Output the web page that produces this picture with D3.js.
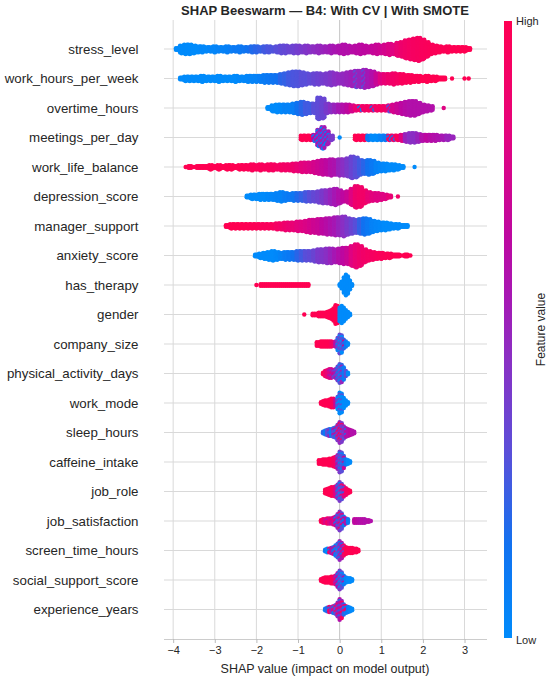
<!DOCTYPE html>
<html>
<head>
<meta charset="utf-8">
<script src="https://cdn.jsdelivr.net/npm/d3@7"></script>
<style>
  body { margin: 0; background: #fff; }
  text { font-family: "Liberation Sans", Arial, sans-serif; fill: #262626; }
</style>
</head>
<body>
<script>
// feature names, top to bottom
var features = ["stress_level", "work_hours_per_week", "overtime_hours", "meetings_per_day",
  "work_life_balance", "depression_score", "manager_support", "anxiety_score", "has_therapy",
  "gender", "company_size", "physical_activity_days", "work_mode", "sleep_hours",
  "caffeine_intake", "job_role", "job_satisfaction", "screen_time_hours",
  "social_support_score", "experience_years"];

// bin width (SHAP units) used for each feature's swarm
var binSteps = [0.1, 0.1, 0.1, 0.1, 0.1, 0.1, 0.1, 0.1, 0.05,
  0.05, 0.05, 0.05, 0.05, 0.05, 0.05, 0.05, 0.05, 0.05, 0.05, 0.05];

var xTicks = [-4, -3, -2, -1, 0, 1, 2, 3];

// colour bar stops (low -> high)
var cmapPos = [0, 0.15, 0.3, 0.45, 0.55, 0.65, 0.8, 0.9, 1];
var cmapColors = ["#008bfb", "#1272f0", "#5a4fd9", "#8a30c4", "#a618b4", "#bd08a0", "#df0482", "#f20268", "#ff0052"];

// swarm bins: [shap value, dots per column, feature value 0-1, (2nd feature value)]
var stressLevel = [[-3.9,2,0],[-3.8,5,0],[-3.7,6,0],[-3.6,6,0],[-3.5,5,0],[-3.4,4,0],[-3.3,4,0.02],
  [-3.2,3,0.02],[-3.1,3,0.03],[-3.0,4,0.03],[-2.9,3,0.05],[-2.8,3,0.05],[-2.7,4,0.06],[-2.6,3,0.08],
  [-2.5,3,0.1],[-2.4,4,0.1],[-2.3,3,0.12],[-2.2,3,0.15],[-2.1,4,0.18],[-2.0,4,0.2],[-1.9,3,0.22],
  [-1.8,4,0.25],[-1.7,4,0.27],[-1.6,3,0.28],[-1.5,4,0.3],[-1.4,5,0.32],[-1.3,5,0.33],[-1.2,4,0.35],
  [-1.1,5,0.36],[-1.0,5,0.38],[-0.9,4,0.4],[-0.8,5,0.42],[-0.7,4,0.44],[-0.6,4,0.46],[-0.5,5,0.48],
  [-0.4,4,0.5],[-0.3,4,0.52],[-0.2,5,0.54],[-0.1,4,0.56],[0.0,5,0.58],[0.1,6,0.6],[0.2,5,0.6],
  [0.3,4,0.62],[0.4,5,0.63],[0.5,6,0.64],[0.6,5,0.65],[0.7,4,0.66],[0.8,5,0.68],[0.9,6,0.7],
  [1.0,5,0.72],[1.1,6,0.75],[1.2,7,0.78],[1.3,6,0.8],[1.4,8,0.85],[1.5,9,0.88],[1.6,11,0.9],
  [1.7,12,0.92],[1.8,13,0.93],[1.9,14,0.94],[2.0,12,0.95],[2.1,9,0.96],[2.2,6,0.97],[2.3,5,0.97],
  [2.4,4,0.98],[2.5,3,0.98],[2.6,4,0.98],[2.7,3,0.99],[2.8,3,0.99],[2.9,3,1],[3.0,3,1],[3.1,2,1]];

var workHours = [[-3.8,2,0],[-3.7,3,0],[-3.6,3,0],[-3.5,3,0],[-3.4,3,0],[-3.3,4,0],[-3.2,3,0],
  [-3.1,3,0],[-3.0,3,0],[-2.9,4,0],[-2.8,3,0],[-2.7,3,0],[-2.6,3,0],[-2.5,4,0],[-2.4,3,0.02],
  [-2.3,3,0.02],[-2.2,4,0.03],[-2.1,4,0.04],[-2.0,4,0.05],[-1.9,4,0.07],[-1.8,5,0.09],[-1.7,5,0.11],
  [-1.6,5,0.13],[-1.5,5,0.15],[-1.4,6,0.2],[-1.3,7,0.22],[-1.2,8,0.25],[-1.1,9,0.27],[-1.0,9,0.28],
  [-0.9,8,0.3],[-0.8,7,0.3],[-0.7,6,0.32],[-0.6,7,0.34],[-0.5,7,0.36],[-0.4,6,0.38],[-0.3,7,0.4],
  [-0.2,8,0.42],[-0.1,7,0.45],[0.0,6,0.47],[0.1,7,0.48],[0.2,8,0.5],[0.3,9,0.52],[0.4,10,0.5,0.3],
  [0.5,10,0.5],[0.6,11,0.52,0.3],[0.7,10,0.55],[0.8,9,0.6],[0.9,7,0.7],[1.0,6,0.8],[1.1,6,0.85],
  [1.2,6,0.88],[1.3,7,0.9],[1.4,6,0.92],[1.5,6,0.95],[1.6,5,0.96],[1.7,5,0.97],[1.8,4,0.98],
  [1.9,4,0.98],[2.0,3,1],[2.1,4,1],[2.2,3,1],[2.3,3,1],[2.4,2,1],[2.5,2,1],[2.7,1,1],[3.0,1,1],[3.1,1,1]];

var overtimeHours = [[-1.7,2,0],[-1.6,4,0],[-1.5,5,0],[-1.4,5,0.02],[-1.3,5,0.05],[-1.2,5,0.05],
  [-1.1,6,0.08],[-1.0,7,0.15],[-0.9,8,0.2],[-0.8,7,0.25],[-0.7,6,0.25],[-0.6,6,0.3],[-0.5,13,0.32],
  [-0.4,12,0.35],[-0.3,6,0.4],[-0.2,5,0.45],[-0.1,5,0.5],[0.0,5,0.55],[0.1,5,0.6],[0.2,5,0.65],
  [0.3,4,0.75],[0.4,3,0.85],[0.5,3,0.9,0.1],[0.6,3,0.9],[0.7,3,0.92],[0.8,3,0.9,0.2],[0.9,3,0.92],
  [1.0,3,0.93],[1.1,3,0.9],[1.2,4,0.8,0.3],[1.3,5,0.75],[1.4,6,0.7],[1.5,7,0.65],[1.6,8,0.62],
  [1.7,9,0.6],[1.8,9,0.6],[1.9,7,0.6],[2.0,5,0.6],[2.1,4,0.6],[2.2,3,0.6],[2.5,1,0.8]];

var meetingsPerDay = [[-0.9,3,1],[-0.8,3,1],[-0.7,3,1],[-0.6,4,0.65,0.1],[-0.5,10,0.55,0.1],
  [-0.4,13,0.55,0.05],[-0.3,8,0.55,0.1],[-0.2,3,0.4],[0.0,1,0],[0.4,3,1],[0.5,3,1],[0.6,3,1],
  [0.7,3,0.1],[0.8,3,0],[0.9,3,0],[1.0,3,0.05],[1.1,3,0.1],[1.2,3,0.9,0.1],[1.3,3,0.9,0.2],
  [1.4,3,0.95],[1.5,4,0.8],[1.6,5,0.5],[1.7,6,0.45],[1.8,6,0.45],[1.9,5,0.5],[2.0,4,0.6],
  [2.1,4,0.65],[2.2,4,0.62],[2.3,4,0.6],[2.4,3,0.58],[2.5,3,0.55],[2.6,3,0.5],[2.7,2,0.5]];

var workLifeBalance = [[-3.7,1,1],[-3.6,2,1],[-3.5,1,1],[-3.4,2,1],[-3.3,2,1],[-3.2,2,1],[-3.1,3,1],
  [-3.0,2,1],[-2.9,3,1],[-2.8,2,1],[-2.7,3,1],[-2.6,3,1],[-2.5,2,1],[-2.4,3,1],[-2.3,3,0.98],
  [-2.2,3,0.98],[-2.1,4,0.97],[-2.0,3,0.97],[-1.9,4,0.96],[-1.8,3,0.95],[-1.7,4,0.95],[-1.6,4,0.94],
  [-1.5,3,0.93],[-1.4,4,0.92],[-1.3,4,0.91],[-1.2,4,0.9],[-1.1,5,0.88],[-1.0,5,0.85],[-0.9,6,0.82],
  [-0.8,6,0.8],[-0.7,6,0.78],[-0.6,7,0.75],[-0.5,8,0.72],[-0.4,9,0.68],[-0.3,9,0.65],[-0.2,10,0.6],
  [-0.1,9,0.58],[0.0,10,0.5],[0.1,10,0.45],[0.2,11,0.4],[0.3,13,0.35],[0.4,12,0.3],[0.5,9,0.25],
  [0.6,8,0.2],[0.7,9,0.15],[0.8,8,0.1],[0.9,6,0.05],[1.0,5,0.03],[1.1,5,0.02],[1.2,4,0],[1.3,4,0],
  [1.4,3,0],[1.5,2,0],[1.8,1,0]];

var depressionScore = [[-2.2,2,0],[-2.1,3,0],[-2.0,3,0],[-1.9,4,0],[-1.8,4,0],[-1.7,4,0.02],
  [-1.6,4,0.03],[-1.5,5,0.05],[-1.4,6,0.05],[-1.3,5,0.08],[-1.2,4,0.1],[-1.1,5,0.12],[-1.0,5,0.18],
  [-0.9,5,0.22],[-0.8,6,0.26],[-0.7,6,0.3],[-0.6,6,0.33],[-0.5,7,0.36],[-0.4,8,0.4],[-0.3,8,0.45],
  [-0.2,9,0.5],[-0.1,10,0.55],[0.0,8,0.6],[0.1,6,0.65],[0.2,7,0.7],[0.3,10,0.8],[0.4,13,0.88],
  [0.5,12,0.9],[0.6,8,0.9],[0.7,6,0.85],[0.8,5,0.82],[0.9,5,0.8],[1.0,4,0.8],[1.1,3,0.8],
  [1.2,2,0.85],[1.4,1,0.9]];

var managerSupport = [[-2.7,2,1],[-2.6,3,1],[-2.5,3,1],[-2.4,3,1],[-2.3,3,0.99],[-2.2,3,0.99],
  [-2.1,3,0.98],[-2.0,3,0.98],[-1.9,3,0.97],[-1.8,3,0.96],[-1.7,3,0.96],[-1.6,3,0.95],[-1.5,4,0.92],
  [-1.4,4,0.9],[-1.3,5,0.88],[-1.2,5,0.86],[-1.1,5,0.85],[-1.0,6,0.82],[-0.9,6,0.8],[-0.8,7,0.78],
  [-0.7,8,0.75],[-0.6,8,0.72],[-0.5,9,0.7],[-0.4,9,0.65],[-0.3,10,0.62],[-0.2,10,0.58],[-0.1,11,0.55],
  [0.0,11,0.5],[0.1,12,0.45],[0.2,10,0.4],[0.3,9,0.35],[0.4,8,0.3],[0.5,9,0.22],[0.6,10,0.15],
  [0.7,9,0.1],[0.8,7,0.05],[0.9,6,0.03],[1.0,5,0.02],[1.1,5,0],[1.2,4,0],[1.3,3,0],[1.4,3,0],
  [1.5,2,0],[1.6,2,0]];

var anxietyScore = [[-2.0,2,0],[-1.9,3,0],[-1.8,4,0],[-1.7,5,0],[-1.6,6,0],[-1.5,5,0.02],[-1.4,4,0.05],
  [-1.3,5,0.08],[-1.2,5,0.1],[-1.1,5,0.15],[-1.0,6,0.2],[-0.9,6,0.25],[-0.8,6,0.3],[-0.7,6,0.32],
  [-0.6,7,0.35],[-0.5,8,0.4],[-0.4,8,0.42],[-0.3,9,0.45],[-0.2,9,0.5],[-0.1,8,0.55],[0.0,9,0.6],
  [0.1,10,0.65],[0.2,10,0.7],[0.3,12,0.8],[0.4,14,0.85],[0.5,12,0.88],[0.6,8,0.9],[0.7,6,0.92],
  [0.8,5,0.93],[0.9,4,0.95],[1.0,4,0.96],[1.1,3,0.97],[1.2,3,0.98],[1.3,2,1],[1.4,2,1],[1.5,1,1],
  [1.6,2,1],[1.7,1,1]];

var hasTherapy = [[-2.0,1,1],[-1.9,2,1],[-1.85,2,1],[-1.8,2,1],[-1.75,2,1],[-1.7,2,1],[-1.65,2,1],
  [-1.6,2,1],[-1.55,2,1],[-1.5,2,1],[-1.45,2,1],[-1.4,2,1],[-1.35,2,1],[-1.3,2,1],[-1.25,2,1],
  [-1.2,2,1],[-1.15,2,1],[-1.1,2,1],[-1.05,2,1],[-1.0,2,1],[-0.95,2,1],[-0.9,2,1],[-0.85,2,1],
  [-0.8,2,1],[-0.75,2,1],
  [0.0,2,0],[0.05,5,0],[0.1,10,0],[0.15,13,0],[0.2,11,0],[0.25,6,0],[0.3,2,0]];

var gender = [[-0.85,1,1],[-0.65,2,1],[-0.6,2,1],[-0.55,2,1],[-0.5,3,1],[-0.45,3,1],[-0.4,3,1],
  [-0.35,3,1],[-0.3,4,1],[-0.25,5,1],[-0.2,6,1],[-0.15,8,1],[-0.1,12,1],[-0.05,11,1],
  [0.0,9,0],[0.05,11,0],[0.1,9,0],[0.15,6,0],[0.2,4,0],[0.25,2,0]];

var companySize = [[-0.55,3,1],[-0.5,3,1],[-0.45,4,1],[-0.4,4,1],[-0.35,4,1],[-0.3,4,1],[-0.25,4,1],
  [-0.2,4,0.95],[-0.15,3,0.9],[-0.1,4,0.6],[-0.05,8,0.4,0.05],[0.0,12,0.35,0],[0.05,11,0.3,0],
  [0.1,6,0.2,0.7],[0.15,4,0.1],[0.2,2,0]];

var physicalActivity = [[-0.4,2,1],[-0.35,4,0.9],[-0.3,5,0.85],[-0.25,6,0.8,0.6],[-0.2,6,0.75,0.5],
  [-0.15,5,0.7,0.4],[-0.1,6,0.55,0.3],[-0.05,9,0.4,0.1],[0.0,12,0.3,0.05],[0.05,11,0.2,0.5],
  [0.1,8,0.1],[0.15,4,0.3],[0.2,2,0]];

var workMode = [[-0.45,2,1],[-0.4,3,1],[-0.35,4,1],[-0.3,4,1],[-0.25,5,1],[-0.2,6,1],[-0.15,6,0.95],
  [-0.1,5,0.7],[-0.05,8,0.3,0],[0.0,13,0,0.4],[0.05,12,0,0.3],[0.1,7,0],[0.15,4,0],[0.2,2,0]];

var sleepHours = [[-0.4,2,0.2],[-0.35,3,0.1],[-0.3,4,0.3],[-0.25,5,0.2,0.5],[-0.2,5,0.1],
  [-0.15,6,0.3,0.6],[-0.1,7,0.2,0.7],[-0.05,10,0.4,0.9],[0.0,13,0.5,1],[0.05,12,0.4,0.9],
  [0.1,8,0.5,0.3],[0.15,6,0.6,0.2],[0.2,5,0.6],[0.25,4,0.65],[0.3,3,0.6],[0.35,2,0.6]];

var caffeineIntake = [[-0.5,3,1],[-0.45,3,1],[-0.4,4,1],[-0.35,4,1],[-0.3,4,1],[-0.25,5,1],[-0.2,5,1],
  [-0.15,6,0.95],[-0.1,7,0.9],[-0.05,9,0.6,0.3],[0.0,13,0.4,0.1],[0.05,12,0.3,0.05],[0.1,8,0.2,0.7],
  [0.15,4,0.1],[0.2,3,0],[0.25,2,0]];

var jobRole = [[-0.35,3,1],[-0.3,4,1],[-0.25,5,1],[-0.2,6,1],[-0.15,6,0.95],[-0.1,7,0.8],
  [-0.05,9,0.5,0.1],[0.0,12,0.4,0.05],[0.05,10,0.3,0.9],[0.1,7,0.8,0.2],[0.15,5,0.9],[0.2,3,0.95],
  [0.25,2,1]];

var jobSatisfaction = [[-0.45,2,1],[-0.4,3,0.9],[-0.35,3,0.8],[-0.3,4,0.9,0.6],[-0.25,4,0.8],
  [-0.2,4,0.7,0.95],[-0.15,5,0.8],[-0.1,6,0.7,0.1],[-0.05,9,0.5,0.1],[0.0,12,0.4,0.9],
  [0.05,10,0.3,0.8],[0.1,6,0.1,0.7],[0.15,4,0.6],[0.2,3,0.1],[0.35,3,0.65],[0.4,3,0.65],
  [0.45,3,0.62],[0.5,3,0.6],[0.55,3,0.62],[0.6,3,0.6],[0.65,2,0.6],[0.7,2,0.62],[0.75,1,0.6]];

var screenTime = [[-0.35,2,0.1],[-0.3,3,0],[-0.25,3,0.9,0.1],[-0.2,4,0.6],[-0.15,5,0.2,0.7],
  [-0.1,7,0.1,0.8],[-0.05,9,0.3,0],[0.0,12,0.5,0.1],[0.05,10,0.6,0.2],[0.1,7,0.9,0.4],
  [0.15,5,1],[0.2,4,1],[0.25,4,1],[0.3,4,1],[0.35,3,1],[0.4,3,1],[0.45,2,1]];

var socialSupport = [[-0.45,2,1],[-0.4,3,1],[-0.35,4,1],[-0.3,4,1],[-0.25,4,1],[-0.2,5,1],
  [-0.15,5,0.95],[-0.1,6,0.8,0.5],[-0.05,9,0.6,0.1],[0.0,12,0.4,0.05],[0.05,10,0.3,0],
  [0.1,6,0.1,0.6],[0.15,4,0.05],[0.2,3,0],[0.25,3,0],[0.3,2,0]];

var experienceYears = [[-0.35,2,0.1],[-0.3,3,0.2],[-0.25,4,0.9,0.1],[-0.2,4,0.5],[-0.15,5,0.8,0.1],
  [-0.1,6,0.3,0.9],[-0.05,9,0.5,0.9],[0.0,13,0.6,0.2],[0.05,11,0.5,0.95],[0.1,7,0.2,0.8],
  [0.15,5,0.9,0.1],[0.2,4,0.1],[0.25,3,0.05],[0.3,2,0]];

var swarms = [stressLevel, workHours, overtimeHours, meetingsPerDay, workLifeBalance,
  depressionScore, managerSupport, anxietyScore, hasTherapy, gender, companySize,
  physicalActivity, workMode, sleepHours, caffeineIntake, jobRole, jobSatisfaction,
  screenTime, socialSupport, experienceYears];

var W = 550, H = 680;
var svg = d3.select("body").append("svg").attr("width", W).attr("height", H);

var x = d3.scaleLinear().domain([-4.22, 3.54]).range([164, 487]);
var y = d3.scalePoint().domain(features).range([49, 609.5]);
var color = d3.scaleLinear().domain(cmapPos).range(cmapColors).interpolate(d3.interpolateRgb);

var plotTop = 20, plotBottom = 639;

// vertical grid
svg.append("g").selectAll("line").data(xTicks).enter().append("line")
  .attr("x1", function(d){ return x(d); }).attr("x2", function(d){ return x(d); })
  .attr("y1", plotTop).attr("y2", plotBottom)
  .attr("stroke", function(d){ return d === 0 ? "#c4c4c4" : "#d9d9d9"; })
  .attr("stroke-width", 1);

// row lines
svg.append("g").selectAll("line").data(features).enter().append("line")
  .attr("x1", 164).attr("x2", 487)
  .attr("y1", function(d){ return y(d); }).attr("y2", function(d){ return y(d); })
  .attr("stroke", "#d9d9d9").attr("stroke-width", 1);

// beeswarm dots built from the bins
var r = 2.2, dyStep = 1.7, dxStep = 1.5;
var dots = [];
swarms.forEach(function(bins, fi){
  var step = binSteps[fi];
  var cy = y(features[fi]);
  bins.forEach(function(b){
    var x0 = x(b[0] - step / 2), x1 = x(b[0] + step / 2);
    var n = b[1];
    var cols = n === 1 ? 1 : Math.max(1, Math.round((x1 - x0) / dxStep));
    for (var j = 0; j < cols; j++) {
      var px = cols === 1 ? x(b[0]) : x0 + (j + 0.5) * (x1 - x0) / cols;
      var shift = (j % 2) * dyStep / 2;
      for (var k = 0; k < n; k++) {
        var off = (k - (n - 1) / 2) * dyStep + (n > 2 ? shift : 0);
        var c = (b.length > 3 && (j + k) % 3 === 1) ? b[3] : b[2];
        dots.push({ x: px, y: cy + off, c: c });
      }
    }
  });
});

svg.append("g").selectAll("circle").data(dots).enter().append("circle")
  .attr("cx", function(d){ return d.x; })
  .attr("cy", function(d){ return d.y; })
  .attr("r", r)
  .attr("fill", function(d){ return color(d.c); });

// bottom axis
var axis = svg.append("g").attr("transform", "translate(0," + plotBottom + ")")
  .call(d3.axisBottom(x).tickValues(xTicks).tickSize(4).tickPadding(3));
axis.select(".domain").attr("stroke", "#cccccc").attr("d", "M164,0.5H487");
axis.selectAll(".tick line").attr("stroke", "#bbbbbb");
axis.selectAll(".tick text").style("font-size", "11px").attr("fill", "#333")
  .style("font-family", "'Liberation Sans', Arial, sans-serif");

svg.append("text").attr("x", 325).attr("y", 673).attr("text-anchor", "middle")
  .style("font-size", "12.5px").text("SHAP value (impact on model output)");

// feature labels
svg.append("g").selectAll("text").data(features).enter().append("text")
  .attr("x", 138.5).attr("y", function(d){ return y(d); })
  .attr("dy", "0.35em").attr("text-anchor", "end")
  .style("font-size", "13.3px").text(function(d){ return d; });

// title
svg.append("text").attr("x", 325).attr("y", 15).attr("text-anchor", "middle")
  .style("font-size", "13px").style("font-weight", "bold")
  .text("SHAP Beeswarm \u2014 B4: With CV | With SMOTE");

// colour bar
var grad = svg.append("defs").append("linearGradient").attr("id", "cbar")
  .attr("x1", 0).attr("y1", 1).attr("x2", 0).attr("y2", 0);
d3.range(0, 1.0001, 0.05).forEach(function(t){
  grad.append("stop").attr("offset", t).attr("stop-color", color(t));
});
var cbTop = 21, cbBottom = 638;
svg.append("rect").attr("x", 504).attr("y", cbTop).attr("width", 8)
  .attr("height", cbBottom - cbTop).attr("fill", "url(#cbar)");
svg.append("text").attr("x", 516).attr("y", cbTop + 4).style("font-size", "11px").text("High");
svg.append("text").attr("x", 516).attr("y", cbBottom + 6).style("font-size", "11px").text("Low");
svg.append("text").attr("transform", "translate(545," + ((cbTop + cbBottom) / 2) + ") rotate(-90)")
  .attr("text-anchor", "middle").style("font-size", "12px").text("Feature value");
</script>
</body>
</html>
